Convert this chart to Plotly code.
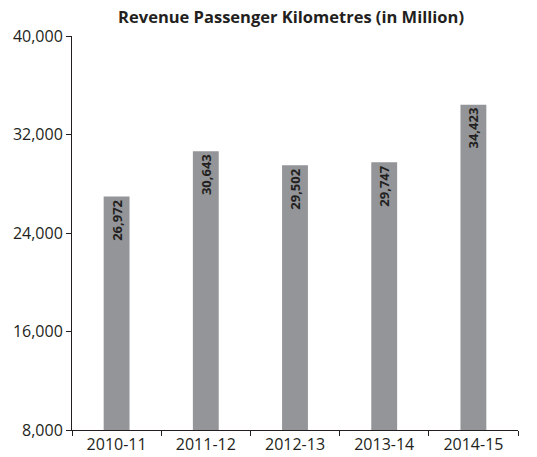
import plotly.graph_objects as go

# Data
years = ["2010-11", "2011-12", "2012-13", "2013-14", "2014-15"]
rpk = [26972, 30643, 29502, 29747, 34423]
y_ticks = [8000, 16000, 24000, 32000, 40000]

fig = go.Figure()

fig.add_trace(go.Bar(
    x=years, y=rpk,
    width=0.29,
    marker=dict(color="#939598", line=dict(width=0)),
    text=[f"<b>{v:,}</b>" for v in rpk],
    textposition="inside",
    insidetextanchor="end",
    textangle=-90,
    textfont=dict(family="Open Sans", size=13, color="#231f20"),
    hoverinfo="x+y",
))

fig.update_layout(
    title=dict(text="<b>Revenue Passenger Kilometres (in Million)</b>",
               x=0.542, xanchor="center", y=0.963, yanchor="middle",
               font=dict(family="Open Sans", size=16.5, color="#231f20")),
    showlegend=False,
    plot_bgcolor="white",
    paper_bgcolor="white",
    width=537, height=457,
    margin=dict(l=72, r=19, t=36, b=27),
    bargap=0.71,
    xaxis=dict(
        type="category",
        automargin=False,
        showline=True, linecolor="#231f20", linewidth=1,
        ticks="outside", tickson="boundaries", ticklen=5, tickcolor="#231f20",
        showgrid=False, zeroline=False,
        tickfont=dict(family="Open Sans", size=16, color="#231f20"),
    ),
    yaxis=dict(
        range=[8000, 40000],
        automargin=False,
        tickvals=y_ticks,
        tickformat=",",
        showline=True, linecolor="#231f20", linewidth=1,
        ticks="outside", ticklen=5, tickcolor="#231f20",
        showgrid=False, zeroline=False,
        tickfont=dict(family="Open Sans", size=16, color="#231f20"),
    ),
)

# drop the default page margin so the 537x457 figure fits the window
fig.write_html("out.html", config={"displayModeBar": False},
               post_script="document.body.style.margin='0';")
